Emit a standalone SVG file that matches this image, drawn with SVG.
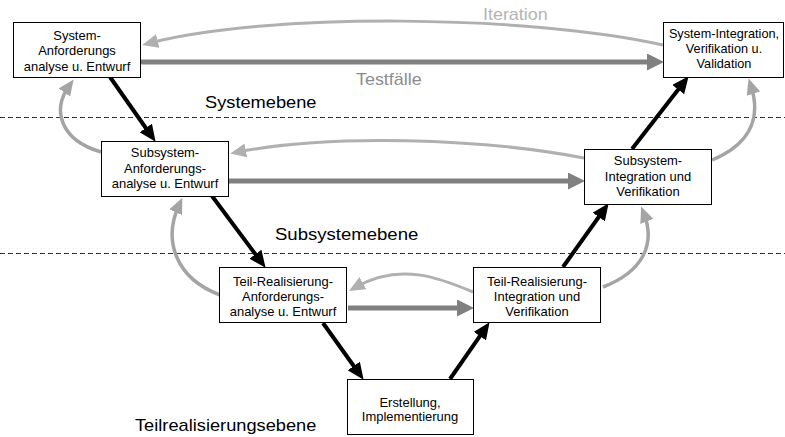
<svg xmlns="http://www.w3.org/2000/svg" width="785" height="437" viewBox="0 0 785 437">
  <style>
    .box { fill: #fff; stroke: #000; stroke-width: 1; }
    .bt { font-family: "Liberation Sans", Arial, sans-serif; font-size: 12px; fill: #000; text-anchor: middle; }
    .lvl { font-family: "Liberation Sans", Arial, sans-serif; font-size: 16px; fill: #000; }
    .lvl.tc { fill: #8c8c8c; }
    .lvl.it { fill: #b4b4b4; }
    .dash { stroke: #333; stroke-width: 1; stroke-dasharray: 5 3; fill: none; }
    .flow { stroke: #000; stroke-width: 4; fill: none; marker-end: url(#ahBlack); }
    .test { stroke: #808080; stroke-width: 5; fill: none; marker-end: url(#ahDark); }
    .iter { stroke: #b0b0b0; stroke-width: 3; fill: none; marker-end: url(#ahLight); }
    .back { stroke: #a4a4a4; stroke-width: 3.5; fill: none; marker-end: url(#ahMid); }
  </style>
  <defs>
    <marker id="ahBlack" markerUnits="userSpaceOnUse" markerWidth="17" markerHeight="15" refX="8" refY="7.5" orient="auto">
      <path d="M0,0 L17,7.5 L0,15 z" fill="#000"/>
    </marker>
    <marker id="ahDark" markerUnits="userSpaceOnUse" markerWidth="17" markerHeight="17" refX="8" refY="8.5" orient="auto">
      <path d="M0,0 L17,8.5 L0,17 z" fill="#808080"/>
    </marker>
    <marker id="ahLight" markerUnits="userSpaceOnUse" markerWidth="16" markerHeight="14" refX="8" refY="7" orient="auto">
      <path d="M0,0 L16,7 L0,14 z" fill="#b0b0b0"/>
    </marker>
    <marker id="ahMid" markerUnits="userSpaceOnUse" markerWidth="16" markerHeight="14" refX="8" refY="7" orient="auto">
      <path d="M0,0 L16,7 L0,14 z" fill="#a4a4a4"/>
    </marker>
  </defs>

  <!-- level separators -->
  <line class="dash" x1="0" y1="117.5" x2="785" y2="117.5"/>
  <line class="dash" x1="0" y1="253.5" x2="785" y2="253.5"/>

  <!-- level labels -->
  <text class="lvl" transform="matrix(1.14 0 0 1 205 108)">Systemebene</text>
  <text class="lvl" transform="matrix(1.16 0 0 1 275 240)">Subsystemebene</text>
  <text class="lvl" transform="matrix(1.14 0 0 1 135 431)">Teilrealisierungsebene</text>
  <text class="lvl tc" transform="matrix(1.12 0 0 1 356 85)">Testfälle</text>
  <text class="lvl it" transform="matrix(1.12 0 0 1 483 20)">Iteration</text>

  <g id="connectors">
    <!-- iteration feedback -->
    <path class="iter" d="M663,45 C530,15 270,12 150,43"/>
    <path class="iter" d="M584,158 C480,138 330,134 238,152"/>
    <path class="iter" d="M473,292 C440,278 400,262 356,287"/>
    <!-- test cases -->
    <line class="test" x1="141" y1="62" x2="655" y2="62"/>
    <line class="test" x1="229" y1="181" x2="576" y2="181"/>
    <line class="test" x1="348" y1="308" x2="465" y2="308"/>
    <!-- decomposition / integration -->
    <line class="flow" x1="110" y1="77" x2="150.4" y2="134.5"/>
    <line class="flow" x1="212" y1="196" x2="260.2" y2="260.6"/>
    <line class="flow" x1="323" y1="323" x2="358.4" y2="372.5"/>
    <line class="flow" x1="450" y1="379" x2="484.4" y2="329.6"/>
    <line class="flow" x1="563" y1="267" x2="603.4" y2="210.5"/>
    <line class="flow" x1="632" y1="149" x2="683.1" y2="83.3"/>
    <!-- level loops -->
    <path class="back" d="M101,152 C60,140 52,110 69,86"/>
    <path class="back" d="M220,295 C175,278 163,240 179,205"/>
    <path class="back" d="M712,160 C748,145 762,120 751,86"/>
    <path class="back" d="M603,287 C642,272 656,245 644,214"/>
  </g>

  <g id="sys-req">
    <rect class="box" x="13.5" y="22.5" width="127" height="55"/>
    <text class="bt" transform="matrix(1.08 0 0 1 77 39.5)">System-</text>
    <text class="bt" transform="matrix(1.08 0 0 1 77 55)">Anforderungs</text>
    <text class="bt" transform="matrix(1.08 0 0 1 77 70.5)">analyse u. Entwurf</text>
  </g>

  <g id="sys-int">
    <rect class="box" x="663.5" y="22.5" width="120" height="55"/>
    <text class="bt" transform="matrix(1.06 0 0 1 724 37.5)">System-Integration,</text>
    <text class="bt" transform="matrix(1.06 0 0 1 724 52.5)">Verifikation u.</text>
    <text class="bt" transform="matrix(1.06 0 0 1 724 67.5)">Validation</text>
  </g>

  <g id="sub-req">
    <rect class="box" x="101.5" y="141.5" width="127" height="55"/>
    <text class="bt" transform="matrix(1.08 0 0 1 165 157)">Subsystem-</text>
    <text class="bt" transform="matrix(1.08 0 0 1 165 172.5)">Anforderungs-</text>
    <text class="bt" transform="matrix(1.08 0 0 1 165 188)">analyse u. Entwurf</text>
  </g>

  <g id="sub-int">
    <rect class="box" x="584.5" y="149.5" width="127" height="55"/>
    <text class="bt" transform="matrix(1.08 0 0 1 648 165)">Subsystem-</text>
    <text class="bt" transform="matrix(1.08 0 0 1 648 181)">Integration und</text>
    <text class="bt" transform="matrix(1.08 0 0 1 648 196)">Verifikation</text>
  </g>

  <g id="part-req">
    <rect class="box" x="219.5" y="267.5" width="127" height="55"/>
    <text class="bt" transform="matrix(1.08 0 0 1 283 286)">Teil-Realisierung-</text>
    <text class="bt" transform="matrix(1.08 0 0 1 283 301)">Anforderungs-</text>
    <text class="bt" transform="matrix(1.08 0 0 1 283 316)">analyse u. Entwurf</text>
  </g>

  <g id="part-int">
    <rect class="box" x="473.5" y="267.5" width="127" height="55"/>
    <text class="bt" transform="matrix(1.08 0 0 1 537 286)">Teil-Realisierung-</text>
    <text class="bt" transform="matrix(1.08 0 0 1 537 301)">Integration und</text>
    <text class="bt" transform="matrix(1.08 0 0 1 537 316)">Verifikation</text>
  </g>

  <g id="impl">
    <rect class="box" x="347.5" y="379.5" width="126" height="55"/>
    <text class="bt" transform="matrix(1.08 0 0 1 410 407)">Erstellung,</text>
    <text class="bt" transform="matrix(1.08 0 0 1 410 421)">Implementierung</text>
  </g>
</svg>
